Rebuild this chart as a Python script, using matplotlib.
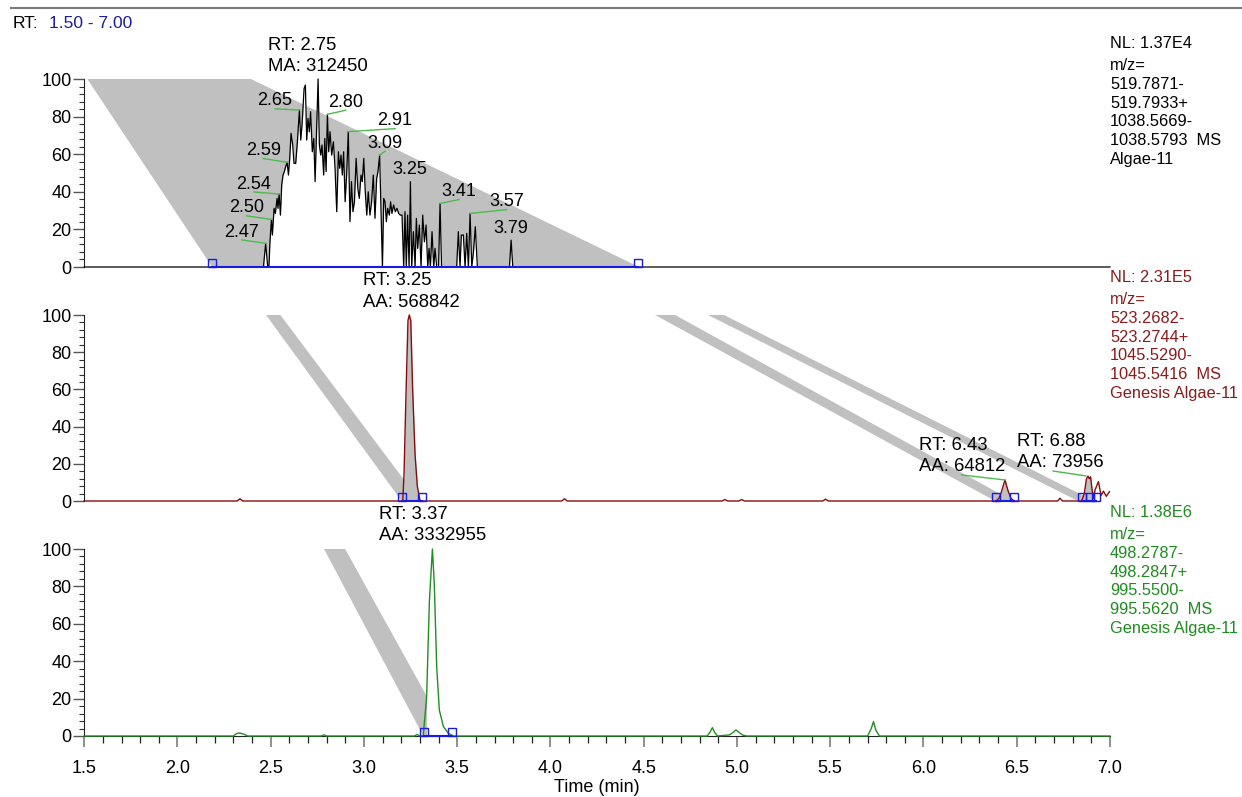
import numpy as np
import matplotlib.pyplot as plt
from matplotlib.ticker import MultipleLocator, FormatStrFormatter
from matplotlib.lines import Line2D

plt.rcParams['font.family'] = ['Liberation Sans', 'DejaVu Sans']
plt.rcParams['font.size'] = 13

W, H = 1242, 797
X0, X1 = 84.2, 1110.0          # pixel columns of 1.5 and 7.0 min
ROW_TOP = [79, 315, 549]       # pixel rows of 100 %
ROW_ZERO = [267, 501, 736]     # pixel rows of 0 %

# ---------------- trace 1 (black, noisy) ----------------
t1 = [1.50, 2.461, 2.473, 2.484, 2.491, 2.496, 2.504, 2.509, 2.518, 2.525, 2.534, 2.539,
      2.545, 2.552, 2.559, 2.566, 2.573, 2.580, 2.588, 2.595, 2.602, 2.609, 2.618, 2.625,
      2.634, 2.643, 2.654, 2.661, 2.668, 2.679, 2.686, 2.693, 2.700, 2.707, 2.714, 2.723,
      2.731, 2.738, 2.747, 2.754, 2.761, 2.768, 2.775, 2.784, 2.790, 2.797, 2.804, 2.811,
      2.818, 2.827, 2.836, 2.845, 2.854, 2.863, 2.870, 2.877, 2.884, 2.891, 2.899, 2.907,
      2.916, 2.925, 2.933, 2.941, 2.949, 2.958, 2.967, 2.975, 2.984, 2.991, 2.999, 3.007,
      3.015, 3.023, 3.032, 3.041, 3.050, 3.059, 3.068, 3.075, 3.084, 3.091, 3.099, 3.106,
      3.113, 3.120, 3.127, 3.136, 3.143, 3.150, 3.159, 3.168, 3.177, 3.186, 3.195, 3.204,
      3.213, 3.220, 3.227, 3.234, 3.242, 3.249, 3.256, 3.265, 3.274, 3.281, 3.288, 3.297,
      3.306, 3.315, 3.324, 3.333, 3.342, 3.349, 3.356, 3.365, 3.374, 3.381, 3.390, 3.400,
      3.408, 3.416, 3.497, 3.506, 3.515, 3.522, 3.533, 3.542, 3.551, 3.560, 3.569, 3.578,
      3.587, 3.597, 3.608, 3.780, 3.789, 3.798, 7.00]
i1 = [0, 0, 12.6, 0, 1, 13.4, 25.3, 17, 31.2, 28.5, 36.5, 31.2,
      38.8, 27.6, 43.6, 48.9, 50.7, 53.3, 55.7, 48.9, 57.8, 71.1, 64.9, 55.1,
      55.1, 66.6, 83.5, 67.5, 75.5, 95.0, 96.8, 67.5, 79.0, 71.9, 82.6, 61.3,
      68.4, 45.4, 77.3, 100, 64.9, 59.5, 64.9, 48.9, 68.4, 50.7, 81.2, 61.3,
      72.0, 59.5, 66.6, 52.5, 29.4, 61.3, 52.5, 59.5, 48.9, 61.3, 34.7, 48.9,
      72.0, 24.1, 45.4, 29.4, 34.7, 57.8, 41.8, 36.5, 48.9, 45.4, 57.8, 40,
      27.6, 40, 27.6, 34.7, 48.9, 25.9, 47.1, 50.7, 59.5, 31.2, 0, 36.5,
      34.7, 24.1, 31.2, 27.6, 34.7, 28.5, 33, 29.4, 31.2, 28.5, 27.6, 27.6,
      0, 29.4, 0, 27.6, 0, 45.4, 0, 18.8, 0, 25.9, 9.9, 22.3,
      0, 27.6, 13.4, 22.3, 0, 9.9, 0, 18.8, 0, 9.9, 0, 0,
      33.8, 0, 0, 18.8, 0, 17, 17, 0, 17.9, 0, 28.5, 0,
      8, 21.4, 0, 0, 14.3, 0, 0]
band1_t = [1.517, 2.394, 4.475, 2.186]
band1_i = [100, 100, 0, 0]
edges1 = [2.186, 4.471]

lab1_txt = ['2.47', '2.50', '2.54', '2.59', '2.65', '2.80', '2.91', '3.09', '3.25', '3.41', '3.57', '3.79']
lab1_pk_t = [2.473, 2.504, 2.545, 2.588, 2.654, 2.804, 2.916, 3.084, 3.249, 3.408, 3.569, 3.789]
lab1_pk_i = [12.6, 25.3, 38.8, 55.7, 83.5, 81.2, 72.0, 59.5, 45.4, 33.8, 28.5, 14.3]
lab1_x = [2.345, 2.371, 2.410, 2.460, 2.523, 2.902, 3.167, 3.113, 3.247, 3.510, 3.765, 3.788]
lab1_y = [18.6, 31.4, 44.1, 61.9, 88.3, 87.6, 77.8, 65.8, 51.6, 40.1, 34.7, 20.6]
lab1_lead = [True, True, True, True, True, True, True, True, False, True, True, False]

# ---------------- trace 2 (dark red) ----------------
t2 = [1.50, 2.32, 2.335, 2.35, 3.200, 3.208, 3.215, 3.226, 3.236, 3.243, 3.251, 3.261,
      3.274, 3.286, 3.301, 3.31, 4.06, 4.075, 4.09, 4.92, 4.935, 4.95, 5.01, 5.025, 5.04,
      5.46, 5.475, 5.49, 6.39, 6.405, 6.418, 6.437, 6.452, 6.468, 6.486, 6.72, 6.732, 6.745,
      6.848, 6.862, 6.874, 6.882, 6.889, 6.896, 6.904, 6.911, 6.920, 6.938, 6.952, 6.965,
      6.980, 6.997]
i2 = [0, 0, 1.2, 0, 0, 0, 15, 60, 97, 100, 97, 60,
      25, 8, 0, 0, 0, 1.2, 0, 0, 0.8, 0, 0, 0.8, 0,
      0, 1.0, 0, 0, 1.5, 5, 11.3, 6, 1.5, 0, 0, 1.5, 0,
      0, 4, 12, 13.4, 12, 13, 6, 1.5, 6, 10.4, 3, 5.3,
      2.5, 5]
band2a_t = [2.475, 2.552, 3.300, 3.202]
band2b_t = [4.561, 4.668, 6.480, 6.384]
band2c_t = [4.845, 4.930, 6.915, 6.829]
band2_i = [100, 100, 0, 0]
peaks2 = [(3.202, 3.311), (6.390, 6.486), (6.848, 6.925)]
edges2 = [3.202, 3.311, 6.390, 6.486, 6.848, 6.893, 6.925]

# ---------------- trace 3 (green) ----------------
t3 = [1.50, 2.30, 2.315, 2.33, 2.345, 2.36, 2.375, 2.77, 2.785, 2.80, 3.27, 3.285, 3.30,
      3.318, 3.336, 3.351, 3.367, 3.377, 3.390, 3.404, 3.426, 3.453, 3.479, 4.84, 4.855,
      4.868, 4.88, 4.895, 4.93, 4.96, 4.98, 4.995, 5.01, 5.03, 5.052, 5.70, 5.718, 5.732,
      5.745, 5.764, 7.00]
i3 = [0, 0, 1.2, 1.6, 1.3, 0.8, 0, 0, 0.6, 0, 0, 0.8, 0,
      0.2, 21, 72.7, 100, 81.6, 37, 13.9, 5, 1.4, 0, 0, 2,
      4.5, 2, 0, 0.3, 0.6, 2, 3.2, 2, 0.5, 0, 0, 3.5, 7.7,
      3, 0, 0]
band3_t = [2.786, 2.899, 3.455, 3.318]
band3_i = [100, 100, 0, 0]
peak3 = (3.322, 3.472)

# big peak labels: panel, x, y of both lines, texts, optional leader
big_labels = [
    (0, 2.487, 117.8, 106.4, 'RT: 2.75', 'MA: 312450', None),
    (1, 2.995, 118.8, 106.7, 'RT: 3.25', 'AA: 568842', None),
    (1, 5.976, 29.6, 18.3, 'RT: 6.43', 'AA: 64812', (6.205, 14.0, 6.437, 11.3)),
    (1, 6.502, 31.9, 20.7, 'RT: 6.88', 'AA: 73956', (6.695, 16.1, 6.870, 13.5)),
    (2, 3.080, 118.4, 107.0, 'RT: 3.37', 'AA: 3332955', None),
]

info = [
    ['NL: 1.37E4', 'm/z=', '519.7871-', '519.7933+', '1038.5669-', '1038.5793  MS', 'Algae-11'],
    ['NL: 2.31E5', 'm/z=', '523.2682-', '523.2744+', '1045.5290-', '1045.5416  MS', 'Genesis Algae-11'],
    ['NL: 1.38E6', 'm/z=', '498.2787-', '498.2847+', '995.5500-', '995.5620  MS', 'Genesis Algae-11'],
]
text_colors = ['black', '#8c1a1a', '#1e8c1e']
line_colors = ['black', '#8b0a0a', '#1f8f1f']

GREY = '#c0c0c0'
LEAD = '#4cbb4c'
BLUE = '#1a1ae6'

fig = plt.figure(figsize=(W / 100, H / 100), dpi=100)

axes = []
for k in range(3):
    ax = fig.add_axes([X0 / W, 1 - ROW_ZERO[k] / H, (X1 - X0) / W,
                       (ROW_ZERO[k] - ROW_TOP[k]) / H])
    ax.set_xlim(1.5, 7.0)
    ax.set_ylim(0, 100)
    for s in ['top', 'right']:
        ax.spines[s].set_visible(False)
    ax.spines['left'].set_color('#222222')
    ax.yaxis.set_major_locator(MultipleLocator(20))
    ax.yaxis.set_minor_locator(MultipleLocator(4))
    ax.tick_params(axis='y', which='major', length=8, width=1, color='#555555', pad=1,
                   labelsize=13)
    ax.tick_params(axis='y', which='minor', length=3.5, width=0.8, color='#333333')
    if k < 2:
        ax.spines['bottom'].set_visible(False)
        ax.set_xticks([])
    else:
        ax.spines['bottom'].set_color('#222222')
        ax.xaxis.set_major_locator(MultipleLocator(0.5))
        ax.xaxis.set_minor_locator(MultipleLocator(0.1))
        ax.xaxis.set_major_formatter(FormatStrFormatter('%.1f'))
        ax.tick_params(axis='x', which='major', length=7.7, width=1.3, color='#888888',
                       pad=9.5, labelsize=13)
        ax.tick_params(axis='x', which='minor', length=4.8, width=0.9, color='#222222')
    ax.patch.set_alpha(0)
    axes.append(ax)

ax1, ax2, ax3 = axes

# panel 1
ax1.fill(band1_t, band1_i, color=GREY, lw=0, zorder=1)
ax1.fill_between(t1, 0, i1, color='white', lw=0, zorder=2)
ax1.plot(t1, i1, color='black', lw=0.9, zorder=3, clip_on=False)
ax1.plot(edges1, [0, 0], color=BLUE, lw=1.5, zorder=4, clip_on=False)
ax1.plot(edges1, [2.1] * len(edges1), ls='none', marker='s', ms=5.5, mfc='none',
         mec=BLUE, mew=1, zorder=5, clip_on=False)
for txt, pt, pi, lx, ly, lead in zip(lab1_txt, lab1_pk_t, lab1_pk_i, lab1_x, lab1_y, lab1_lead):
    ax1.text(lx, ly, txt, ha='center', va='center', fontsize=13, zorder=6)
    if lead:
        ax1.plot([lx, pt], [ly - 4.2, pi], color=LEAD, lw=1, zorder=6, clip_on=False)

# panel 2
for bt in [band2a_t, band2b_t, band2c_t]:
    ax2.fill(bt, band2_i, color=GREY, lw=0, zorder=1)
t2a = np.array(t2)
i2a = np.array(i2)
for a, b in peaks2:
    ax2.fill_between(t2a, 0, i2a, where=(t2a >= a) & (t2a <= b), color=GREY, lw=0,
                     zorder=2)
    ax2.plot([a, b], [0, 0], color=BLUE, lw=1.5, zorder=4, clip_on=False)
ax2.plot(t2, i2, color=line_colors[1], lw=1, zorder=3, clip_on=False)
ax2.plot(edges2, [2.1] * len(edges2), ls='none', marker='s', ms=5.5, mfc='none',
         mec=BLUE, mew=1, zorder=5, clip_on=False)

# panel 3
ax3.fill(band3_t, band3_i, color=GREY, lw=0, zorder=1)
t3a = np.array(t3)
i3a = np.array(i3)
ax3.fill_between(t3a, 0, i3a, where=(t3a >= peak3[0]) & (t3a <= peak3[1]), color='white',
                 lw=0, zorder=2)
ax3.plot(t3, i3, color=line_colors[2], lw=1, zorder=3, clip_on=False)
ax3.plot(list(peak3), [0, 0], color=BLUE, lw=1.5, zorder=4, clip_on=False)
ax3.plot(list(peak3), [2.1, 2.1], ls='none', marker='s', ms=5.5, mfc='none',
         mec=BLUE, mew=1, zorder=5, clip_on=False)

# RT / area labels
for k, x, y1, y2, s1, s2, lead in big_labels:
    ax = axes[k]
    ax.text(x, y1, s1, ha='left', va='center', fontsize=13.3, zorder=6)
    ax.text(x, y2, s2, ha='left', va='center', fontsize=13.3, zorder=6)
    if lead:
        ax.plot(lead[0::2], lead[1::2], color=LEAD, lw=1, zorder=6, clip_on=False)

# side information
for k in range(3):
    base = ROW_ZERO[k] - 219
    rows = [base, base + 22] + [base + 22 + 18.8 * j for j in range(1, 6)]
    for s, r in zip(info[k], rows):
        fig.text(1110 / W, 1 - r / H, s, ha='left', va='baseline', color=text_colors[k],
                 fontsize=11.8)

# header
fig.text(12.7 / W, 1 - 28 / H, 'RT:', ha='left', va='baseline', fontsize=12.5)
fig.text(49 / W, 1 - 28 / H, '1.50 - 7.00', ha='left', va='baseline', fontsize=12.5,
         color='#1c1c9c')
fig.add_artist(Line2D([11 / W, 1], [1 - 8 / H, 1 - 8 / H], color='#7a7a7a', lw=1.5))

fig.text(597 / W, 1 - 788 / H, 'Time (min)', ha='center', va='center', fontsize=13)

fig.savefig('out.png', dpi=100)
